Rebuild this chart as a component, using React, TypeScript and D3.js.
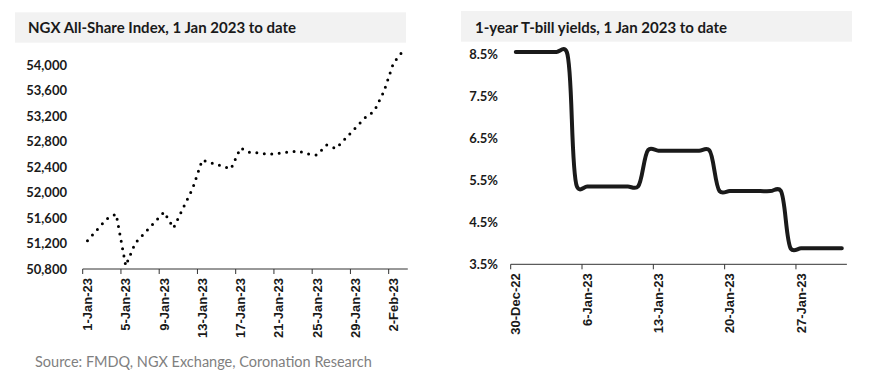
import React from "react";
import * as d3 from "d3";

// ---- Left chart: NGX All-Share Index ----
const ngxDates = [
  "2023-01-01", "2023-01-03", "2023-01-04", "2023-01-05", "2023-01-06",
  "2023-01-09", "2023-01-10", "2023-01-11", "2023-01-12", "2023-01-13",
  "2023-01-16", "2023-01-17", "2023-01-18", "2023-01-19", "2023-01-20",
  "2023-01-23", "2023-01-24", "2023-01-25", "2023-01-26", "2023-01-27",
  "2023-01-30", "2023-01-31", "2023-02-01", "2023-02-02", "2023-02-03",
];
const ngxValues = [
  51244, 51584, 51663, 50850, 51208,
  51694, 51443, 51757, 52063, 52510,
  52369, 52698, 52627, 52620, 52599,
  52651, 52604, 52588, 52745, 52690,
  53169, 53278, 53584, 54031, 54220,
];
const ngxYTicks = [50800, 51200, 51600, 52000, 52400, 52800, 53200, 53600, 54000];
const ngxXTicks = [
  "2023-01-01", "2023-01-05", "2023-01-09", "2023-01-13", "2023-01-17",
  "2023-01-21", "2023-01-25", "2023-01-29", "2023-02-02",
];
const ngxTitle = "NGX All-Share Index, 1 Jan 2023 to date";

// ---- Right chart: 1-year T-bill yields ----
const tbillStart = "2022-12-30";
const tbillValues = [
  8.55, 8.55, 8.55, 8.55, 8.55, 8.55,
  5.35, 5.35, 5.35, 5.35, 5.35, 5.35, 5.35,
  6.22, 6.2, 6.2, 6.2, 6.2, 6.2, 6.21,
  5.24, 5.24, 5.24, 5.24, 5.24, 5.24, 5.25,
  3.87, 3.88, 3.88, 3.88, 3.88, 3.88,
];
const tbillYTicks = [3.5, 4.5, 5.5, 6.5, 7.5, 8.5];
const tbillXTicks = ["2022-12-30", "2023-01-06", "2023-01-13", "2023-01-20", "2023-01-27"];
const tbillTitle = "1-year T-bill yields, 1 Jan 2023 to date";

const sourceText = "Source: FMDQ, NGX Exchange, Coronation Research";

const DAY = 86400000;
const parse = (s: string) => new Date(s + "T00:00:00Z");
const fmtDate = (d: Date) => {
  const m = ["Jan", "Feb", "Mar", "Apr", "May", "Jun", "Jul", "Aug", "Sep", "Oct", "Nov", "Dec"][d.getUTCMonth()];
  return `${d.getUTCDate()}-${m}-${String(d.getUTCFullYear()).slice(2)}`;
};

const FONT = "Lato, 'Open Sans', sans-serif";
const AXFONT = "'Liberation Sans', Arial, sans-serif";
const TXT = "#1a1a1a";

export default function App() {
  // left scales
  const xL = d3.scaleUtc().domain([parse("2023-01-01"), parse("2023-02-04")]).range([82.7, 407.8]);
  const yL = d3.scaleLinear().domain([50800, 54000]).range([269, 65]);
  const ngxData = ngxDates.map((d, i) => ({ x: new Date(parse(d).getTime() + DAY / 2), y: ngxValues[i] }));
  const lineL = d3.line<{ x: Date; y: number }>().x((d) => xL(d.x)).y((d) => yL(d.y));

  // right scales
  const xR = d3.scaleUtc().domain([parse("2022-12-30"), parse("2023-02-01")]).range([510.7, 846.9]);
  const yR = d3.scaleLinear().domain([3.5, 8.5]).range([264.3, 54]);
  const t0 = parse(tbillStart).getTime();
  const tbillData = tbillValues.map((v, i) => ({ x: new Date(t0 + i * DAY + DAY / 2), y: v }));
  const lineR = d3
    .line<{ x: Date; y: number }>()
    .x((d) => xR(d.x))
    .y((d) => yR(d.y))
    .curve(d3.curveCatmullRom.alpha(0.3));

  return (
    <svg width={879} height={381} style={{ position: "absolute", left: 0, top: 0, background: "#fff" }} fontFamily={FONT}>
      {/* Left header */}
      <rect x={15} y={12.3} width={391} height={30.4} fill="#f2f2f2" />
      <text x={28} y={32.7} fontSize={15} fontWeight={700} fill={TXT}>{ngxTitle}</text>

      {/* Left y ticks */}
      {ngxYTicks.map((t) => (
        <text key={t} x={67} y={yL(t)} dy="0.35em" textAnchor="end" fontSize={13} fontWeight={700} fill={TXT}>
          {d3.format(",")(t)}
        </text>
      ))}
      {/* Left x axis */}
      <line x1={xL.range()[0]} x2={xL.range()[1]} y1={269} y2={269} stroke="#333" strokeWidth={1} />
      {ngxXTicks.map((s) => {
        const d = parse(s);
        const x = xL(d);
        const xc = xL(new Date(d.getTime() + DAY / 2));
        return (
          <g key={s}>
            <line x1={x} x2={x} y1={269} y2={274} stroke="#333" strokeWidth={1} />
            <text transform={`translate(${xc},278) rotate(-90)`} textAnchor="end" dy="0.35em" fontSize={13} fontFamily={AXFONT} fontWeight={700} fill={TXT}>
              {fmtDate(d)}
            </text>
          </g>
        );
      })}
      <path d={lineL(ngxData) || ""} fill="none" stroke="#000" strokeWidth={3} strokeDasharray="0 7.5" strokeLinecap="round" />

      {/* Right header */}
      <rect x={461} y={11} width={391} height={30.7} fill="#f2f2f2" />
      <text x={475} y={32.7} fontSize={15} fontWeight={700} fill={TXT}>{tbillTitle}</text>

      {tbillYTicks.map((t) => (
        <text key={t} x={498} y={yR(t)} dy="0.35em" textAnchor="end" fontSize={13} fontWeight={700} fill={TXT}>
          {t.toFixed(1)}%
        </text>
      ))}
      <line x1={xR.range()[0]} x2={xR.range()[1]} y1={264.3} y2={264.3} stroke="#333" strokeWidth={1} />
      {tbillXTicks.map((s) => {
        const d = parse(s);
        const x = xR(d);
        const xc = xR(new Date(d.getTime() + DAY / 2));
        return (
          <g key={s}>
            <line x1={x} x2={x} y1={264.3} y2={269.3} stroke="#333" strokeWidth={1} />
            <text transform={`translate(${xc},273.3) rotate(-90)`} textAnchor="end" dy="0.35em" fontSize={13} fontFamily={AXFONT} fontWeight={700} fill={TXT}>
              {fmtDate(d)}
            </text>
          </g>
        );
      })}
      <path d={lineR(tbillData) || ""} fill="none" stroke="#1a1a1a" strokeWidth={4} strokeLinecap="round" strokeLinejoin="round" />

      {/* Source */}
      <text x={35} y={367.3} fontSize={14.5} fill="#7f7f7f">{sourceText}</text>
    </svg>
  );
}
